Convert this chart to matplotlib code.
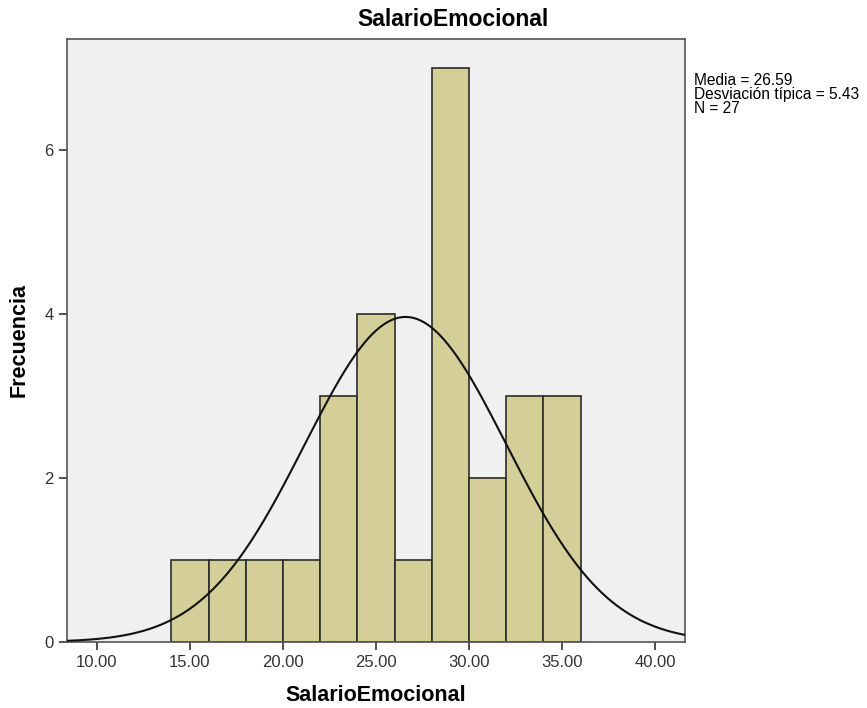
import numpy as np
import matplotlib.pyplot as plt

plt.rcParams['font.family'] = ['Liberation Sans', 'DejaVu Sans']

# histogram data
bin_edges = [14, 16, 18, 20, 22, 24, 26, 28, 30, 32, 34, 36]
counts = [1, 1, 1, 1, 3, 4, 1, 7, 2, 3, 3]
media = 26.59
desv = 5.43
n = 27
xticks = [10, 15, 20, 25, 30, 35, 40]
yticks = [0, 2, 4, 6]

fig = plt.figure(figsize=(8.67, 7.08), dpi=100)
ax = fig.add_axes([0.0773, 0.0932, 0.7127, 0.8518])
ax.set_facecolor('#f0f0f0')

widths = np.diff(bin_edges)
ax.bar(bin_edges[:-1], counts, width=widths, align='edge',
       color='#d4cf99', edgecolor='#2b2b2b', linewidth=1.2, zorder=2)

# normal curve scaled to counts
xs = np.linspace(8.39, 41.61, 400)
bw = bin_edges[1] - bin_edges[0]
ys = n * bw / (desv * np.sqrt(2 * np.pi)) * np.exp(-0.5 * ((xs - media) / desv) ** 2)
ax.plot(xs, ys, color='#111111', linewidth=1.5, zorder=3)

ax.set_xlim(8.39, 41.61)
ax.set_ylim(0, 7.36)
ax.set_xticks(xticks)
ax.set_xticklabels(['%.2f' % t for t in xticks], fontsize=12, color='#333333')
ax.set_yticks(yticks)
ax.set_yticklabels([str(t) for t in yticks], fontsize=12, color='#333333')
ax.tick_params(direction='out', length=6, width=1.2, color='#333333')

for s in ax.spines.values():
    s.set_color('#555555')
    s.set_linewidth(1.2)

fig.text(0.5225, 0.972, 'SalarioEmocional', fontsize=16.5, fontweight='bold',
         ha='center', va='center')
ax.set_xlabel('SalarioEmocional', fontsize=15.5, fontweight='bold', labelpad=11)
ax.set_ylabel('Frecuencia', fontsize=15.5, fontweight='bold', labelpad=11)

fig.text(0.800, 0.897, 'Media = %.2f\nDesviación típica = %.2f\nN = %d' % (media, desv, n),
         fontsize=11.2, va='top', ha='left', linespacing=0.9)

fig.savefig('out.png', dpi=100)
